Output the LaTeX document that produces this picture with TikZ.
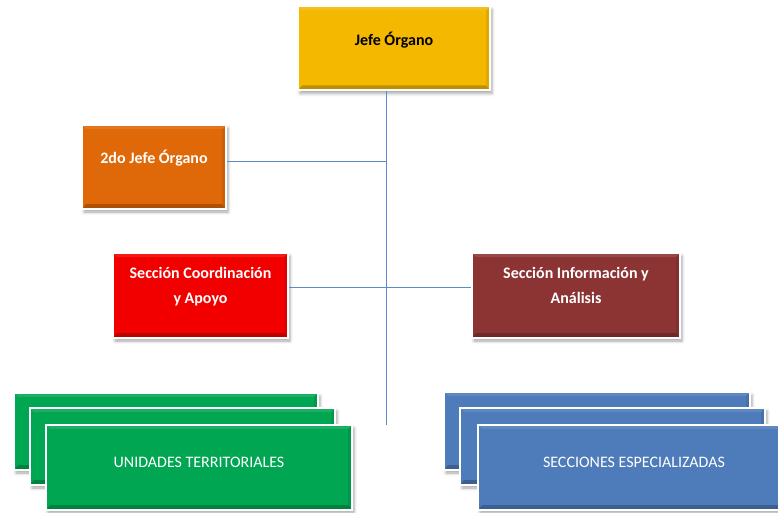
\documentclass[tikz,border=0pt]{standalone}
\usepackage{fontspec}
\setmainfont{Carlito}
\usetikzlibrary{shadows.blur,calc}
\definecolor{cgold}{HTML}{F4B800}
\definecolor{corange}{HTML}{DF6808}
\definecolor{cred}{HTML}{F20000}
\definecolor{cbrown}{HTML}{8C3434}
\definecolor{cgreen}{HTML}{00A651}
\definecolor{cblue}{HTML}{4E7BB9}
\definecolor{cline}{HTML}{5B8BC9}
\tikzset{
  box/.style={rectangle, draw=white, line width=2pt, inner sep=0pt,
    blur shadow={shadow xshift=2pt, shadow yshift=-3pt, shadow blur radius=3pt, shadow opacity=35},
    path picture={
      \fill[black,opacity=.22] (path picture bounding box.south west) -- (path picture bounding box.south east)
        -- ([xshift=-4pt,yshift=5pt]path picture bounding box.south east) -- ([xshift=4pt,yshift=5pt]path picture bounding box.south west) -- cycle;
      \fill[black,opacity=.08] (path picture bounding box.south east) -- (path picture bounding box.north east)
        -- ([xshift=-4pt,yshift=-4pt]path picture bounding box.north east) -- ([xshift=-4pt,yshift=5pt]path picture bounding box.south east) -- cycle;
      \fill[white,opacity=.10] (path picture bounding box.north west) -- (path picture bounding box.north east)
        -- ([xshift=-4pt,yshift=-4pt]path picture bounding box.north east) -- ([xshift=4pt,yshift=-4pt]path picture bounding box.north west) -- cycle;
    }},
  boldtxt/.style={font=\fontsize{16}{25}\selectfont\bfseries, align=center},
  plaintxt/.style={font=\fontsize{16}{25}\selectfont, text=white},
  conn/.style={draw=cline, line width=0.9pt},
}
\begin{document}
\begin{tikzpicture}[x=1pt,y=-1pt]
\useasboundingbox (0,0) rectangle (778,513);
% top
\node[box, boldtxt, fill=cgold, text=black, minimum width=192pt, minimum height=84pt, text height=10pt, text depth=15pt] (jefe) at (394,48.5) {Jefe Órgano};
\node[box, boldtxt, fill=corange, text=white, minimum width=144pt, minimum height=84pt, text height=10pt, text depth=16pt] (segundo) at (154,167) {2do Jefe Órgano};
\node[box, boldtxt, fill=cred, text=white, minimum width=175pt, minimum height=85pt, text height=35pt, text depth=20pt] (coord) at (200.5,295.5) {Sección Coordinación\\y Apoyo};
\node[box, boldtxt, fill=cbrown, text=white, minimum width=208pt, minimum height=85pt, text height=35pt, text depth=20pt] (info) at (576,295.5) {Sección Información y\\Análisis};
% green stack
\node[box, fill=cgreen, minimum width=304pt, minimum height=77pt] (ut3) at (166,431.5) {};
\node[box, fill=cgreen, minimum width=305pt, minimum height=77pt] (ut2) at (182.5,446.5) {};
\node[box, plaintxt, fill=cgreen, minimum width=306pt, minimum height=85pt, text height=10pt, text depth=11pt] (ut) at (199,467.5) {UNIDADES TERRITORIALES};
% blue stack
\node[box, fill=cblue, minimum width=306pt, minimum height=78pt] (se3) at (597,431) {};
\node[box, fill=cblue, minimum width=305pt, minimum height=77pt] (se2) at (612.5,446.5) {};
\node[box, plaintxt, fill=cblue, minimum width=312pt, minimum height=85pt, text height=10pt, text depth=11pt] (se) at (634,467.5) {SECCIONES ESPECIALIZADAS};
% connectors
\coordinate (bottom) at (386,425);
\coordinate (trunk) at (jefe.south -| bottom);
\draw[conn] (trunk) -- (bottom);
\draw[conn] ([yshift=6pt]segundo.east) -- ([yshift=6pt]segundo.east -| bottom);
\draw[conn] ([yshift=8.5pt]coord.east) -- ([yshift=8.5pt]info.west);
\end{tikzpicture}
\end{document}
